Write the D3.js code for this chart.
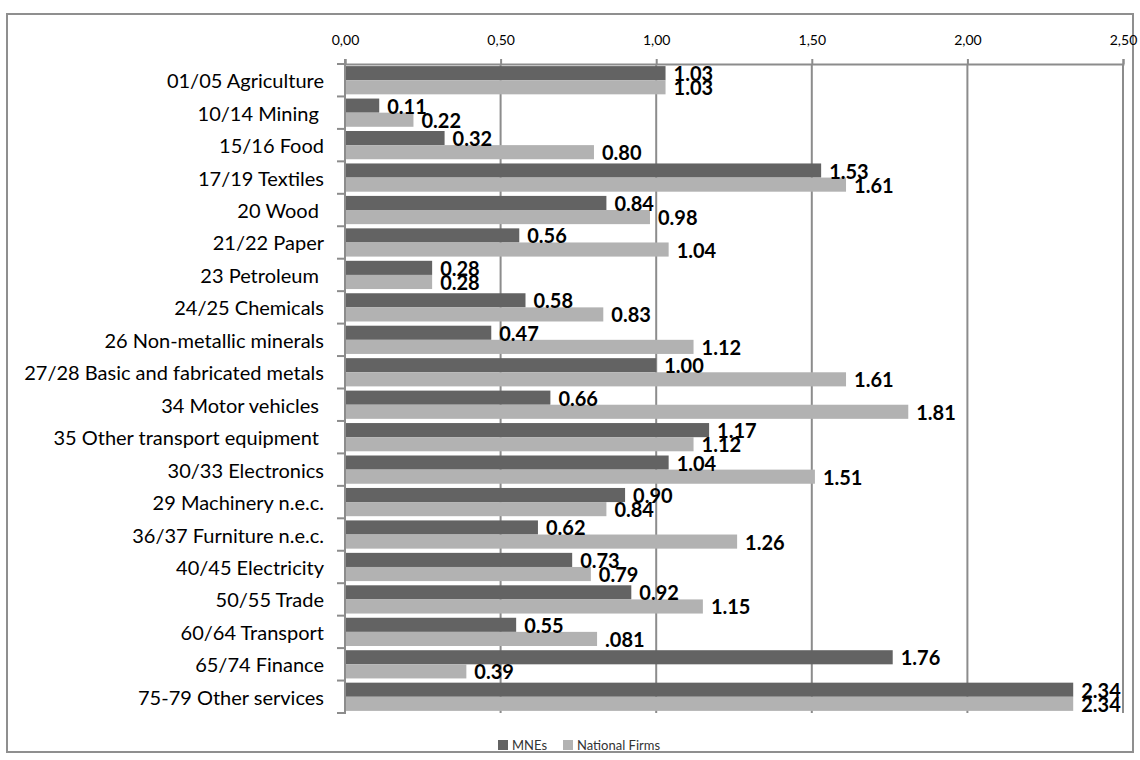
<!DOCTYPE html>
<html>
<head>
<meta charset="utf-8">
<script src="https://cdn.jsdelivr.net/npm/d3@7"></script>
<style>
  html, body { margin: 0; padding: 0; background: #ffffff; }
  svg { display: block; }
  text { font-family: "Lato", "Liberation Sans", sans-serif; white-space: pre; }
</style>
</head>
<body>
<svg id="chart" width="1140" height="760"></svg>
<script>
// Sector labels (some carry a trailing space in the source sheet)
const categories = [
  "01/05 Agriculture", "10/14 Mining ", "15/16 Food", "17/19 Textiles", "20 Wood ",
  "21/22 Paper", "23 Petroleum ", "24/25 Chemicals", "26 Non-metallic minerals",
  "27/28 Basic and fabricated metals", "34 Motor vehicles ", "35 Other transport equipment ",
  "30/33 Electronics", "29 Machinery n.e.c.", "36/37 Furniture n.e.c.", "40/45 Electricity",
  "50/55 Trade", "60/64 Transport", "65/74 Finance", "75-79 Other services"
];
const seriesNames = ["MNEs", "National Firms"];
const mneValues = [1.03, 0.11, 0.32, 1.53, 0.84, 0.56, 0.28, 0.58, 0.47, 1.00,
                   0.66, 1.17, 1.04, 0.90, 0.62, 0.73, 0.92, 0.55, 1.76, 2.34];
const nationalValues = [1.03, 0.22, 0.80, 1.61, 0.98, 1.04, 0.28, 0.83, 1.12, 1.61,
                        1.81, 1.12, 1.51, 0.84, 1.26, 0.79, 1.15, 0.81, 0.39, 2.34];
// Data labels as printed on the sheet
const mneLabels = ["1.03", "0.11", "0.32", "1.53", "0.84", "0.56", "0.28", "0.58", "0.47", "1.00",
                   "0.66", "1.17", "1.04", "0.90", "0.62", "0.73", "0.92", "0.55", "1.76", "2.34"];
const nationalLabels = ["1.03", "0.22", "0.80", "1.61", "0.98", "1.04", "0.28", "0.83", "1.12", "1.61",
                        "1.81", "1.12", "1.51", "0.84", "1.26", "0.79", "1.15", ".081", "0.39", "2.34"];
const xTicks = [0, 0.5, 1.0, 1.5, 2.0, 2.5];

const colors = ["#636363", "#b2b2b2"];
const gridColor = "#8c8c8c";

const svg = d3.select("#chart");

// Outer chart frame
svg.append("rect")
  .attr("x", 7).attr("y", 14).attr("width", 1126).attr("height", 738)
  .attr("fill", "#ffffff").attr("stroke", "#8f8f8f").attr("stroke-width", 2);

const plot = { left: 345, right: 1123, top: 64, bottom: 713 };

const x = d3.scaleLinear().domain([0, 2.5]).range([plot.left, plot.right]);
const y = d3.scaleBand().domain(categories).range([plot.top, plot.bottom])
  .paddingInner(0.13).paddingOuter(0.065);
const inner = d3.scaleBand().domain(seriesNames).range([0, y.bandwidth()]);
const fmt = d3.formatLocale({ decimal: ",", thousands: ".", grouping: [3], currency: ["", ""] }).format(".2f");

// Vertical gridlines
svg.append("g").selectAll("line").data(xTicks).join("line")
  .attr("x1", d => x(d)).attr("x2", d => x(d))
  .attr("y1", plot.top).attr("y2", plot.bottom)
  .attr("stroke", gridColor).attr("stroke-width", 2);

// Top value axis
const xAxis = svg.append("g").attr("transform", `translate(0,${plot.top})`)
  .call(d3.axisTop(x).tickValues(xTicks).tickFormat(fmt).tickSize(5).tickPadding(14));
xAxis.select(".domain").attr("stroke", gridColor).attr("stroke-width", 2);
xAxis.selectAll(".tick line").attr("stroke", gridColor).attr("stroke-width", 2);
xAxis.selectAll(".tick text").attr("fill", "#000").attr("font-size", 14)
  .attr("font-family", "Lato, sans-serif");

// Bars
const rows = categories.map((c, i) => ({
  cat: c,
  items: [
    { s: seriesNames[0], v: mneValues[i], label: mneLabels[i] },
    { s: seriesNames[1], v: nationalValues[i], label: nationalLabels[i] }
  ]
}));

const rowG = svg.append("g").selectAll("g").data(rows).join("g")
  .attr("transform", d => `translate(0,${y(d.cat)})`);

rowG.selectAll("rect").data(d => d.items).join("rect")
  .attr("x", x(0))
  .attr("y", d => inner(d.s))
  .attr("width", d => x(d.v) - x(0))
  .attr("height", inner.bandwidth())
  .attr("fill", (d, i) => colors[i]);

// Category axis on the left
const yAxis = svg.append("g").attr("transform", `translate(${plot.left},0)`)
  .call(d3.axisLeft(y).tickSize(0).tickPadding(21));
yAxis.select(".domain").remove();
yAxis.selectAll(".tick text").attr("fill", "#000").attr("font-size", 20)
  .attr("font-family", "Lato, sans-serif").attr("dy", "0.4em");
yAxis.selectAll(".tick line").remove();

// Category separators and the axis line
const sepPositions = categories.map(c => y(c) - y.step() * y.paddingInner() / 2)
  .concat([plot.bottom]);
svg.append("g").selectAll("line").data(sepPositions).join("line")
  .attr("x1", plot.left - 8).attr("x2", plot.left)
  .attr("y1", d => d).attr("y2", d => d)
  .attr("stroke", gridColor).attr("stroke-width", 2);
svg.append("line")
  .attr("x1", plot.left).attr("x2", plot.left)
  .attr("y1", plot.top - 5).attr("y2", plot.bottom + 1)
  .attr("stroke", gridColor).attr("stroke-width", 2);

// Value labels at bar ends
rowG.selectAll("text.val").data(d => d.items).join("text")
  .attr("class", "val")
  .attr("x", d => x(d.v) + 8)
  .attr("y", d => inner(d.s) + inner.bandwidth() / 2 + 8)
  .attr("font-size", 20).attr("font-weight", 700).attr("fill", "#000")
  .text(d => d.label);

// Legend
const legend = svg.append("g").attr("transform", "translate(498,740)");
const legendItems = [{ name: seriesNames[0], dx: 0 }, { name: seriesNames[1], dx: 65 }];
const li = legend.selectAll("g").data(legendItems).join("g")
  .attr("transform", d => `translate(${d.dx},0)`);
li.append("rect").attr("width", 10).attr("height", 10).attr("fill", (d, i) => colors[i]);
li.append("text").attr("x", 14).attr("y", 9.5)
  .attr("font-size", 13).attr("fill", "#333")
  .text(d => d.name);
</script>
</body>
</html>
